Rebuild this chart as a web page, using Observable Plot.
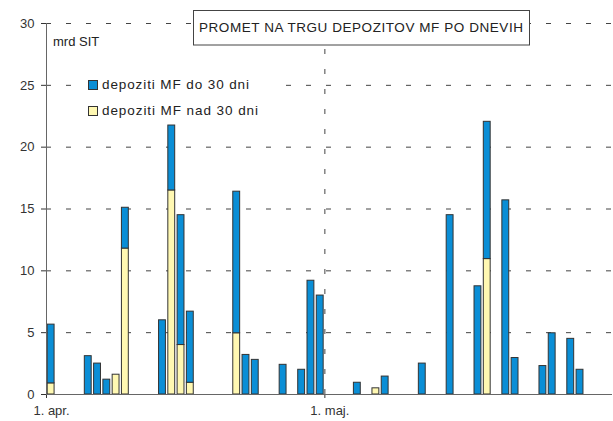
<!DOCTYPE html>
<html><head><meta charset="utf-8">
<script src="https://cdn.jsdelivr.net/npm/d3@7"></script>
<script src="https://cdn.jsdelivr.net/npm/@observablehq/plot@0.6"></script>
<style>
body{margin:0;background:#fff;}
#chart{position:relative;width:613px;height:421px;}
</style>
</head><body><div id="chart"></div>
<script>
// ---- data ----
const days = ["1999-04-01","1999-04-05","1999-04-06","1999-04-07","1999-04-08","1999-04-09",
  "1999-04-13","1999-04-14","1999-04-15","1999-04-16","1999-04-21","1999-04-22","1999-04-23",
  "1999-04-26","1999-04-28","1999-04-29","1999-04-30","1999-05-04","1999-05-06","1999-05-07",
  "1999-05-11","1999-05-14","1999-05-17","1999-05-18","1999-05-20","1999-05-21","1999-05-24",
  "1999-05-25","1999-05-27","1999-05-28"];
const do30  = [4.75,3.1,2.5,1.2,0,3.3, 6.0,5.25,10.5,5.75,11.45,3.2,2.8, 2.4,2.0,9.2,8.0,0.95,0,1.45, 2.5,14.5,8.75,11.1,15.7,2.95,2.3, 4.95,4.5,2.0];
const nad30 = [0.9,0,0,0,1.6,11.8, 0,16.5,4.0,0.95,4.95,0,0, 0,0,0,0,0,0.5,0, 0,0,0,10.95,0,0,0, 0,0,0];
const seriesNames = ["depoziti MF do 30 dni", "depoziti MF nad 30 dni"];
const seriesColors = ["#0A8ED6", "#FFF8B2"];
const yTicks = [0,5,10,15,20,25,30];
const xTickDays = ["1999-04-01","1999-05-01"];
const xTickLabels = ["1. apr.","1. maj."];
const xDomainDays = ["1999-04-01","1999-06-01"];
const title = "PROMET NA TRGU DEPOZITOV MF PO DNEVIH";
const unitLabel = "mrd SIT";

// ---- build table ----
const parse = d3.utcParse("%Y-%m-%d");
const rows = [];
days.forEach((d, i) => {
  if (nad30[i] > 0) rows.push({date: parse(d), series: seriesNames[1], value: nad30[i]});
  if (do30[i] > 0) rows.push({date: parse(d), series: seriesNames[0], value: do30[i]});
});
const xTicks = xTickDays.map(parse);
const gridColor = "#444";

const chart = Plot.plot({
  width: 613, height: 421,
  marginLeft: 46, marginRight: 1, marginTop: 23, marginBottom: 27,
  style: {fontFamily: "'Liberation Sans', Arial, sans-serif", fontSize: "13px", color: "#333", background: "#fff"},
  x: {type: "utc", domain: xDomainDays.map(parse), ticks: xTicks, tickSize: 4, tickPadding: 7,
      tickFormat: d => xTickLabels[xTicks.findIndex(t => +t === +d)], label: null},
  y: {domain: [0, 30], ticks: yTicks, tickSize: 5, tickPadding: 7, label: null},
  color: {domain: seriesNames, range: seriesColors},
  marks: [
    Plot.ruleY(yTicks.filter(t => t > 0), {stroke: gridColor, strokeDasharray: "5,15"}),
    Plot.ruleX([xTicks[1]], {y1: 0, y2: 30, stroke: gridColor, strokeDasharray: "5,15"}),
    Plot.rectY(rows, {x: "date", interval: d3.utcDay, y: "value", fill: "series",
      stroke: "#333", strokeWidth: 1, insetLeft: 1.2, insetRight: 1.2}),
    Plot.ruleX([xTicks[0]], {y1: 0, y2: 30, stroke: "#666"}),
    Plot.ruleY([0], {stroke: "#666"})
  ]
});
document.getElementById("chart").appendChild(chart);

// shift x tick labels slightly right like the reference
d3.select(chart).selectAll("g[aria-label='x-axis tick label'] text")
  .attr("dx", 5);

// ---- annotations: title box, unit label, legend ----
const svg = d3.select(chart);
const g = svg.append("g").attr("font-family", "'Liberation Sans', Arial, sans-serif")
  .attr("fill", "#222").attr("text-anchor", "start");
g.append("rect").attr("x", 193.5).attr("y", 10.5).attr("width", 336).attr("height", 34.5)
  .attr("fill", "#fff").attr("stroke", "#444");
g.append("text").attr("x", 199).attr("y", 31.5).attr("font-size", 13.5)
  .attr("textLength", 324).attr("lengthAdjust", "spacing").text(title);
g.append("text").attr("x", 53).attr("y", 46).attr("font-size", 13).text(unitLabel);
// legend background (hides the gridline behind it)
g.append("rect").attr("x", 76).attr("y", 70).attr("width", 199).attr("height", 52).attr("fill", "#fff");
seriesNames.forEach((name, i) => {
  const y0 = 80 + i * 26;
  g.append("rect").attr("x", 88.5).attr("y", y0 + 0.5).attr("width", 9).attr("height", 9)
    .attr("fill", seriesColors[i]).attr("stroke", "#333");
  g.append("text").attr("x", 102).attr("y", y0 + 8.5).attr("font-size", 13.5)
    .attr("textLength", i === 0 ? 147 : 156).attr("lengthAdjust", "spacing").text(name);
});
</script>
</body></html>
